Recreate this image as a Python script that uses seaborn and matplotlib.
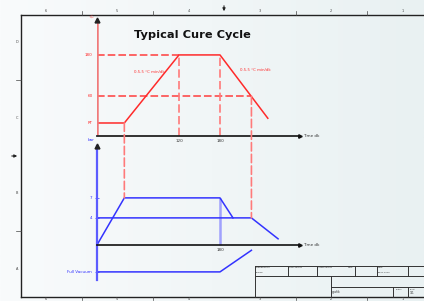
import numpy as np
import pandas as pd
import seaborn as sns
import matplotlib.pyplot as plt
from matplotlib.patches import ConnectionPatch
from matplotlib.colors import LinearSegmentedColormap

# cure cycle data (time in minutes, temperature in C, pressure in bar)
temp_time = [0, 40, 120, 180, 250]
temp_values = [20, 20, 180, 180, 27]
temp_ticks = [20, 60, 180]
temp_labels = ["RT", "60", "180"]
release_time = 226

press_time = [0, 40, 180, 199]
press_values = [0, 7, 7, 4]
bag_time = [0, 226, 265]
bag_values = [4, 4, 0.9]
vac_time = [0, 180, 226]
vac_values = [-1, -1, -0.2]
press_ticks = [-1, 4, 7]
press_labels = ["Full Vacuum", "4", "7"]

# schematic (non linear) axis scales of the drawing
t_pts, t_hgt = [0, 20, 60, 180, 300], [0, 13, 40, 81, 122]
p_pts, p_hgt = [-3, -1, 0, 4, 7, 20], [-81, -27, 0, 27, 47, 134]

RED = "#ff2a2a"
RED_H = "#ff3d3d"
RED_D = "#ff7a7a"
BLUE = "#3333ff"

fig = plt.figure(figsize=(4.24, 3.01), dpi=100)

# drawing sheet background, frame, rulers, title block (pixel coords)
bg = fig.add_axes([0, 0, 1, 1])
bg.set_xlim(0, 424)
bg.set_ylim(301, 0)
bg.axis("off")
cmap = LinearSegmentedColormap.from_list("sheet", ["#f9fbfc", "#e9f1f2"])
bg.imshow(np.linspace(0, 1, 200)[None, :], cmap=cmap, aspect="auto",
          extent=[0, 424, 301, 0], zorder=0)
k = dict(color="#222222", lw=1.0)
bg.plot([20.5, 430], [14.5, 14.5], **k)
bg.plot([20.5, 20.5], [14.5, 296.5], **k)
bg.plot([20.5, 430], [296.5, 296.5], **k)
for x, lab in zip([46, 117, 189, 260, 331, 403], "654321"):
    bg.text(x, 11.5, lab, fontsize=2.5, ha="center", va="center", color="#444444")
    bg.text(x, 299.5, lab, fontsize=2.5, ha="center", va="center", color="#444444")
for x in [82, 153, 296, 367]:
    bg.plot([x, x], [11, 14.5], color="#444444", lw=0.5)
    bg.plot([x, x], [296.5, 300], color="#444444", lw=0.5)
for y, lab in zip([42, 118, 193, 269], "DCBA"):
    bg.text(17, y, lab, fontsize=2.5, ha="center", va="center", color="#444444")
for y in [80, 231]:
    bg.plot([16, 20.5], [y, y], color="#444444", lw=0.5)
bg.annotate("", xy=(224, 14), xytext=(224, 3),
            arrowprops=dict(arrowstyle="-|>", color="#222222", lw=0.8, mutation_scale=4))
bg.annotate("", xy=(20, 156), xytext=(9, 156),
            arrowprops=dict(arrowstyle="-|>", color="#222222", lw=0.8, mutation_scale=4))

tb = dict(color="#333333", lw=0.7)
bg.plot([255, 430], [265.5, 265.5], **tb)
bg.plot([255, 430], [276, 276], **tb)
bg.plot([331, 430], [287, 287], **tb)
bg.plot([255, 255], [265.5, 296.5], **tb)
for x in [288, 317, 355, 377, 408]:
    bg.plot([x, x], [265.5, 276], **tb)
for x in [331]:
    bg.plot([x, x], [276, 296.5], **tb)
for x in [393, 408]:
    bg.plot([x, x], [287, 296.5], **tb)
for x, lab in zip([256, 289, 318, 348, 378], ["Designed by", "Checked by", "Approved by", "Date", "Date"]):
    bg.text(x, 267.5, lab, fontsize=1.6, va="center", color="#333333")
bg.text(256, 272.5, "grafik5", fontsize=1.6, va="center", color="#333333")
bg.text(378, 272.5, "09.01.2013", fontsize=1.6, va="center", color="#333333")
bg.text(332, 291.5, "grafik", fontsize=2.2, va="center", color="#333333")
bg.text(396, 289.5, "Edition", fontsize=1.4, va="center", color="#333333")
bg.text(410, 289.5, "Sheet", fontsize=1.4, va="center", color="#333333")
bg.text(410, 293.5, "1/1", fontsize=2.2, va="center", color="#333333")

bg.text(192, 35, "Typical Cure Cycle", fontsize=8.2, fontweight="bold",
        ha="center", va="center", color="#111111")

# temperature axes
xmax = 300
ax_t = fig.add_axes([97 / 424, 1 - 136 / 301, xmax * 0.6833 / 424, 118 / 301])
ax_t.set_yscale("function", functions=(lambda v: np.interp(v, t_pts, t_hgt),
                                       lambda h: np.interp(h, t_hgt, t_pts)))
ax_t.set_xlim(0, xmax)
ax_t.set_ylim(0, 288)

df_t = pd.DataFrame({"time": temp_time, "temp": temp_values})
sns.lineplot(data=df_t, x="time", y="temp", ax=ax_t, color=RED, lw=1.1,
             sort=False, estimator=None, zorder=4)
ax_t.hlines(180, 0, 120, color=RED_H, lw=1.1, ls=(0, (5, 2)))
ax_t.hlines(60, 0, release_time, color=RED_H, lw=1.1, ls=(0, (5, 2)))
ax_t.vlines([120, 180], 0, 180, color=RED_D, lw=1.2, ls=(0, (5, 2)))
ax_t.plot([0, 0], [0, 282], color="#f07a7a", lw=1.8, zorder=5)
ax_t.plot([0], [282], marker="^", ms=3.5, color="#222222", clip_on=False, zorder=6)
ax_t.plot([0, 297], [0, 0], color="#222222", lw=1.3, clip_on=False, zorder=5)
ax_t.plot([297], [0], marker=">", ms=2.5, color="#111111", clip_on=False, zorder=6)
ax_t.text(301, 0, "Time dk", fontsize=3, va="center", color="#333333")
ax_t.text(-3, 290, "°C", fontsize=3, ha="right", va="center", color=RED, rotation=30)
ax_t.text(77, 130, "0.5-5 °C min/dk", fontsize=2.8, ha="center", va="center", color=RED)
ax_t.text(231, 136, "0.5-5 °C min/dk", fontsize=2.8, ha="center", va="center", color=RED)
ax_t.set_yticks(temp_ticks, temp_labels)
ax_t.set_xticks([120, 180], ["120", "180"])
ax_t.tick_params(axis="y", length=0, pad=3, labelsize=3, labelcolor=RED)
ax_t.tick_params(axis="x", length=0, pad=2.5, labelsize=3, labelcolor="#333333")
ax_t.set_xlabel("")
ax_t.set_ylabel("")
ax_t.patch.set_alpha(0)
for s in ax_t.spines.values():
    s.set_visible(False)

# pressure axes
ax_p = fig.add_axes([97 / 424, 1 - 280 / 301, xmax * 0.6833 / 424, 137 / 301])
ax_p.set_yscale("function", functions=(lambda v: np.interp(v, p_pts, p_hgt),
                                       lambda h: np.interp(h, p_hgt, p_pts)))
ax_p.set_xlim(0, xmax)
ax_p.set_ylim(-1.3, 15.2)

df_p = pd.concat([
    pd.DataFrame({"time": press_time, "bar": press_values, "line": "autoclave"}),
    pd.DataFrame({"time": bag_time, "bar": bag_values, "line": "bag"}),
    pd.DataFrame({"time": vac_time, "bar": vac_values, "line": "vacuum"}),
])
sns.lineplot(data=df_p, x="time", y="bar", units="line", ax=ax_p, color=BLUE,
             lw=1.1, sort=False, estimator=None, zorder=4)
ax_p.vlines(180, 0, 7, color="#8c8cff", lw=1.8, alpha=0.8)
ax_p.plot([0, 0], [-1.3, 14.8], color="#5c5cff", lw=1.6, zorder=5, clip_on=False)
ax_p.plot([0], [14.8], marker="^", ms=3.5, color="#222222", clip_on=False, zorder=6)
ax_p.plot([0, 297], [0, 0], color="#111111", lw=1.2, clip_on=False, zorder=5)
ax_p.plot([297], [0], marker=">", ms=2.5, color="#111111", clip_on=False, zorder=6)
ax_p.text(301, 0, "Time dk", fontsize=3, va="center", color="#333333")
ax_p.text(-4, 15.6, "bar", fontsize=3, ha="right", va="center", color=BLUE)
ax_p.set_yticks(press_ticks, press_labels)
ax_p.set_xticks([180], ["180"])
ax_p.spines["bottom"].set_position(("data", 0))
ax_p.tick_params(axis="y", length=3, direction="inout", width=0.5, color=BLUE,
                 pad=2, labelsize=3, labelcolor=BLUE)
ax_p.tick_params(axis="x", length=0, pad=2, labelsize=3, labelcolor="#333333")
ax_p.set_xlabel("")
ax_p.set_ylabel("")
ax_p.patch.set_alpha(0)
for s in ax_p.spines.values():
    s.set_visible(False)

# dashed links from the temperature chart down to the pressure chart
for t, tv, pv in [(40, 20, 7), (release_time, 60, 4)]:
    con = ConnectionPatch(xyA=(t, tv), coordsA=ax_t.transData,
                          xyB=(t, pv), coordsB=ax_p.transData,
                          color=RED_D, lw=1.2, ls=(0, (5, 2)))
    fig.add_artist(con)

fig.savefig("out.png", dpi=100)
